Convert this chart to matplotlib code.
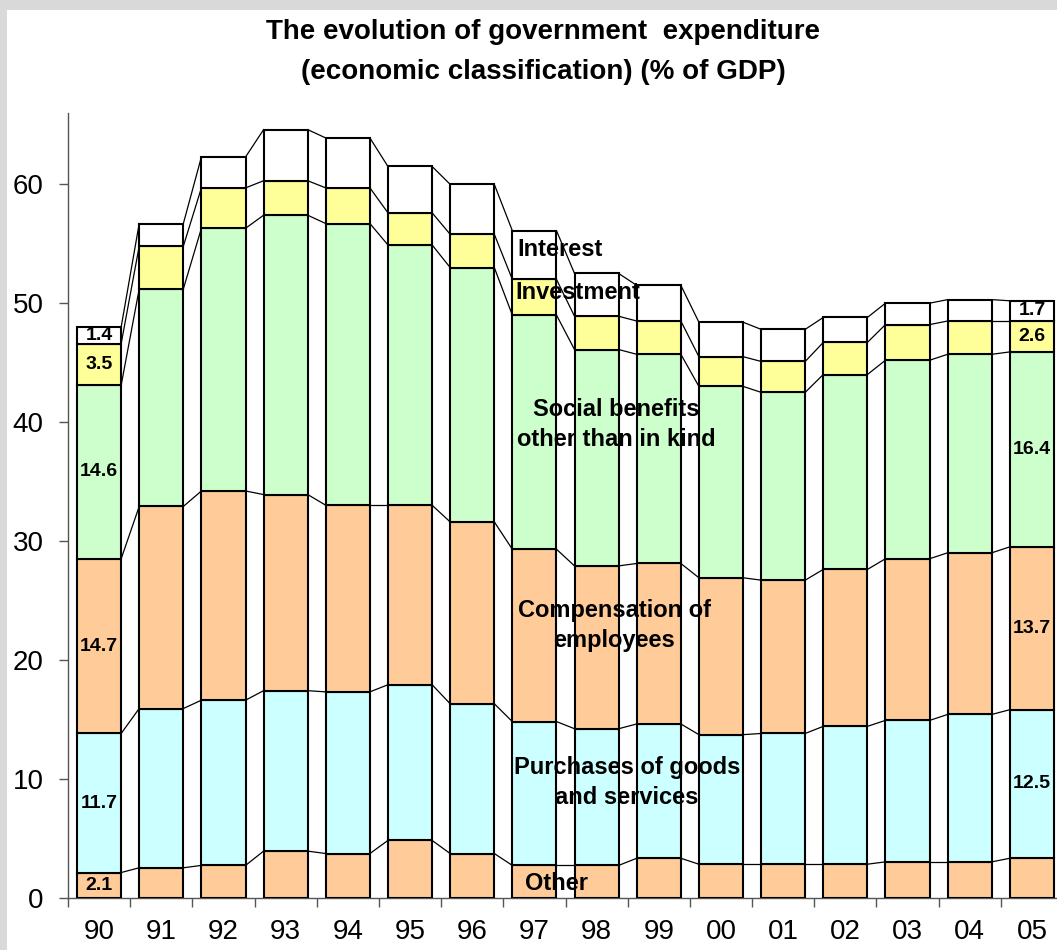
import numpy as np
import matplotlib.pyplot as plt
from matplotlib.patches import Rectangle

plt.rcParams['font.family'] = ['Liberation Sans', 'DejaVu Sans']

# Government expenditure by economic classification (% of GDP)
years = ['90', '91', '92', '93', '94', '95', '96', '97',
         '98', '99', '00', '01', '02', '03', '04', '05']
other = [2.1, 2.5, 2.7, 3.9, 3.7, 4.8, 3.7, 2.7, 2.7, 3.3, 2.8, 2.8, 2.8, 3.0, 3.0, 3.3]
purchases = [11.7, 13.4, 13.9, 13.5, 13.6, 13.1, 12.6, 12.1, 11.5, 11.3, 10.9, 11.0, 11.6, 11.9, 12.4, 12.5]
compensation = [14.7, 17.0, 17.6, 16.5, 15.7, 15.1, 15.3, 14.5, 13.7, 13.5, 13.2, 12.9, 13.2, 13.6, 13.6, 13.7]
social = [14.6, 18.3, 22.1, 23.5, 23.7, 21.9, 21.4, 19.7, 18.2, 17.6, 16.1, 15.8, 16.4, 16.7, 16.7, 16.4]
investment = [3.5, 3.6, 3.4, 2.9, 3.0, 2.7, 2.8, 3.0, 2.8, 2.8, 2.5, 2.6, 2.7, 3.0, 2.8, 2.6]
interest = [1.4, 1.9, 2.6, 4.3, 4.2, 3.9, 4.2, 4.1, 3.6, 3.0, 2.9, 2.7, 2.1, 1.8, 1.8, 1.7]

series = [other, purchases, compensation, social, investment, interest]
colors = ['#FFCC99', '#CCFFFF', '#FFCC99', '#CCFFCC', '#FFFF99', '#FFFFFF']

W, H = 1057, 950
fig = plt.figure(figsize=(W / 100, H / 100), dpi=100, facecolor='#D9D9D9')
fig.add_artist(Rectangle((7 / W, 0), 1, 1 - 10 / H, transform=fig.transFigure,
                         facecolor='white', edgecolor='none', zorder=-1))

ax = fig.add_axes([68 / W, 52.5 / H, 995 / W, 784.5 / H])
ax.set_facecolor('none')

x = np.arange(len(years))
bw = 0.71
bottom = np.zeros(len(years))
tops = []
for vals, c in zip(series, colors):
    vals = np.array(vals)
    ax.bar(x, vals, bw, bottom=bottom, color=c, edgecolor='black', linewidth=1.5, zorder=3)
    bottom = bottom + vals
    tops.append(bottom.copy())

# series lines joining the segment tops of neighbouring bars
for lvl in tops:
    for i in range(len(years) - 1):
        ax.plot([x[i] + bw / 2, x[i + 1] - bw / 2], [lvl[i], lvl[i + 1]],
                color='black', linewidth=0.9, zorder=2)

# values on the first bar (all segments) and the last bar (all but "other")
for i, first in ((0, 0), (len(years) - 1, 1)):
    base = sum(s[i] for s in series[:first])
    for vals in series[first:]:
        ax.text(x[i], base + vals[i] / 2, f'{vals[i]:.1f}', ha='center', va='center',
                fontsize=14, fontweight='bold', zorder=5)
        base += vals[i]

# category names written across the middle bars
lab = dict(fontsize=17, fontweight='bold', zorder=5, linespacing=1.4)
ax.text(6.72, 54.5, 'Interest', ha='left', va='center', **lab)
ax.text(6.69, 50.9, 'Investment', ha='left', va='center', **lab)
ax.text(8.31, 39.8, 'Social benefits\nother than in kind', ha='center', va='center', **lab)
ax.text(8.28, 22.9, 'Compensation of\nemployees', ha='center', va='center', **lab)
ax.text(8.49, 9.7, 'Purchases of goods\nand services', ha='center', va='center', **lab)
ax.text(7.35, 1.2, 'Other', ha='center', va='center', **lab)

ax.set_xlim(-0.5, len(years) - 0.5)
ax.set_ylim(0, 66)
ax.set_yticks(range(0, 61, 10))
ax.set_xticks(x)
ax.set_xticklabels(years)
ax.set_xticks(np.arange(-0.5, len(years)), minor=True)

for s in ('top', 'right'):
    ax.spines[s].set_visible(False)
for s in ('left', 'bottom'):
    ax.spines[s].set_color('#555555')
    ax.spines[s].set_linewidth(1.0)

ax.tick_params(axis='y', length=6.5, width=1, color='#555555', pad=11, labelsize=20)
ax.tick_params(axis='x', which='major', length=0, pad=15.5, labelsize=20)
ax.tick_params(axis='x', which='minor', length=6.5, width=1, color='#555555')

fig.text(543 / W, 1 - 32 / H, 'The evolution of government  expenditure',
         ha='center', va='center', fontsize=20, fontweight='bold')
fig.text(543 / W, 1 - 72 / H, '(economic classification) (% of GDP)',
         ha='center', va='center', fontsize=20, fontweight='bold')

fig.savefig('out.png', dpi=100, facecolor=fig.get_facecolor())
